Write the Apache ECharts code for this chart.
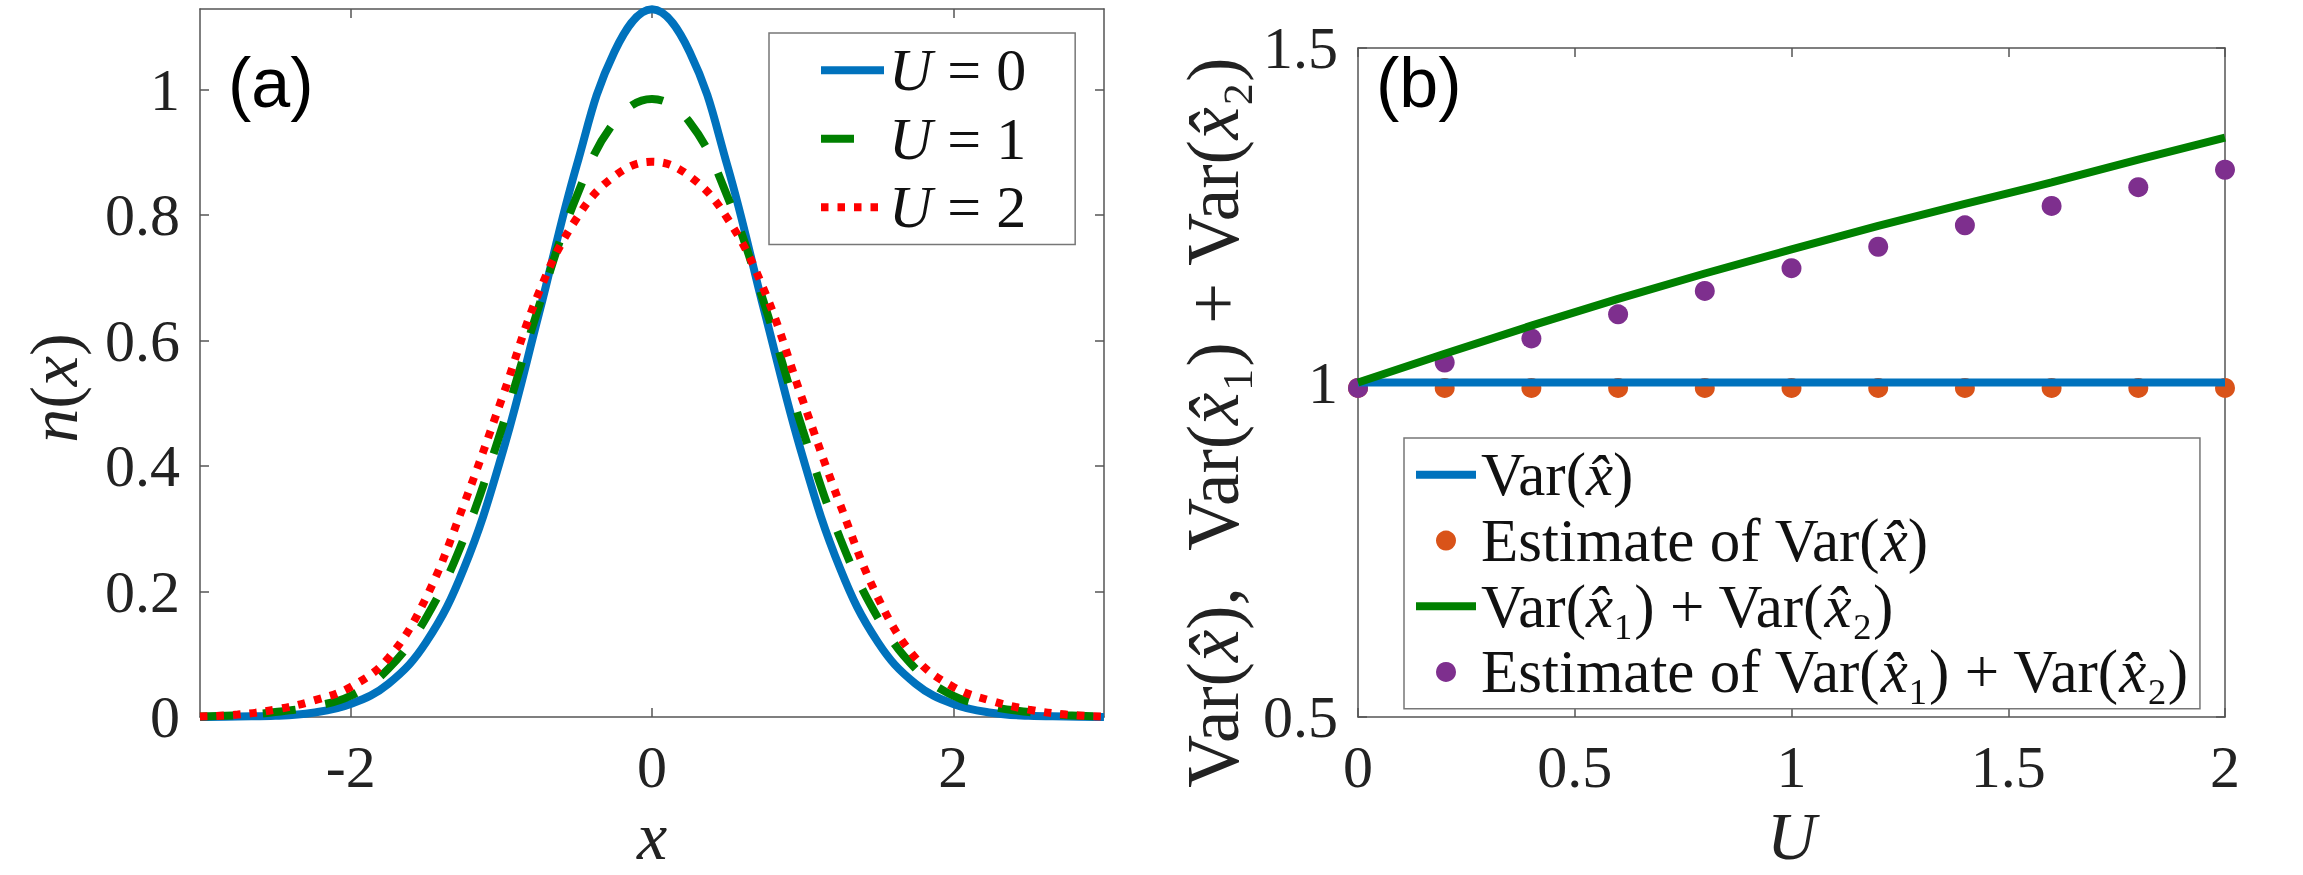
<!DOCTYPE html>
<html>
<head>
<meta charset="utf-8">
<script src="https://cdn.jsdelivr.net/npm/echarts@6/dist/echarts.min.js"></script>
<style>
  html, body { margin: 0; padding: 0; background: #fff; }
  #chart { width: 2303px; height: 875px; }
</style>
</head>
<body>
<div id="chart"></div>
<script>
// panel (a): density profile n(x) for U = 0, 1, 2
const xPos = [-3, -2.75, -2.5, -2.25, -2, -1.75, -1.5, -1.25, -1, -0.75, -0.5, -0.25, 0,
              0.25, 0.5, 0.75, 1, 1.25, 1.5, 1.75, 2, 2.25, 2.5, 2.75, 3];
const nU0 = [0.000, 0.001, 0.002, 0.007, 0.021, 0.053, 0.119, 0.236, 0.415, 0.643, 0.879, 1.060, 1.128,
             1.060, 0.879, 0.643, 0.415, 0.236, 0.119, 0.053, 0.021, 0.007, 0.002, 0.001, 0.000];
const nU1 = [0.001, 0.003, 0.008, 0.017, 0.034, 0.077, 0.158, 0.284, 0.458, 0.655, 0.830, 0.948, 0.985,
             0.948, 0.830, 0.655, 0.458, 0.284, 0.158, 0.077, 0.034, 0.017, 0.008, 0.003, 0.001];
const nU2 = [0.001, 0.004, 0.012, 0.026, 0.048, 0.094, 0.190, 0.338, 0.505, 0.677, 0.795, 0.862, 0.885,
             0.862, 0.795, 0.677, 0.505, 0.338, 0.190, 0.094, 0.048, 0.026, 0.012, 0.004, 0.001];
const xTicksA = [-2, 0, 2];
const yTicksA = [0, 0.2, 0.4, 0.6, 0.8, 1];

// panel (b): variances against U
const uVals = [0, 0.2, 0.4, 0.6, 0.8, 1, 1.2, 1.4, 1.6, 1.8, 2];
const varX = [1.000, 1.000, 1.000, 1.000, 1.000, 1.000, 1.000, 1.000, 1.000, 1.000, 1.000];
const varXEst = [0.992, 0.992, 0.992, 0.992, 0.992, 0.992, 0.992, 0.992, 0.992, 0.992, 0.992];
const varSum = [1.000, 1.043, 1.085, 1.125, 1.163, 1.199, 1.234, 1.267, 1.299, 1.333, 1.366];
const varSumEst = [0.992, 1.030, 1.066, 1.102, 1.137, 1.171, 1.203, 1.235, 1.264, 1.292, 1.318];
const xTicksB = [0, 0.5, 1, 1.5, 2];
const yTicksB = [0.5, 1, 1.5];

const serif = "Liberation Serif, DejaVu Serif, serif";
const axisColor = "#555";

function pairs(xs, ys) {
  return xs.map((x, i) => [x, ys[i]]);
}

function makeAxis(gridIndex, position, min, max, ticks, withLabels) {
  return {
    type: "value",
    gridIndex: gridIndex,
    position: position,
    min: min,
    max: max,
    axisLine: { show: true, onZero: false, lineStyle: { color: axisColor, width: 1.5 } },
    axisTick: { show: true, inside: true, length: 9, customValues: ticks, lineStyle: { color: axisColor, width: 1.5 } },
    axisLabel: {
      show: withLabels,
      customValues: ticks,
      fontFamily: serif,
      fontSize: 60,
      color: "#222",
      margin: 20,
    },
    splitLine: { show: false },
  };
}

const nameStyle = (size, pad) => ({
  fontFamily: serif, fontSize: size, color: "#222", padding: pad,
  rich: { i: { fontStyle: "italic", fontFamily: serif, fontSize: size, color: "#222" } },
});

const xA = makeAxis(0, "bottom", -3, 3, xTicksA, true);
xA.name = "{i|x}";
xA.nameLocation = "middle";
xA.nameGap = 68;
xA.nameTextStyle = nameStyle(68, 0);

const yA = makeAxis(0, "left", 0, 1.1284, yTicksA, true);
yA.name = "{i|n}({i|x})";
yA.nameLocation = "middle";
yA.nameGap = 112;
yA.nameRotate = 90;
yA.nameTextStyle = nameStyle(68, [0, 50, 0, 0]);

const xB = makeAxis(1, "bottom", 0, 2, xTicksB, true);
xB.name = "{i|U}";
xB.nameLocation = "middle";
xB.nameGap = 42;
xB.nameTextStyle = nameStyle(68, 0);

const yB = makeAxis(1, "left", 0.5, 1.5, yTicksB, true);
yB.name = "Var({i|x̂}),\u2002Var({i|x̂}₁) + Var({i|x̂}₂)";
yB.nameLocation = "middle";
yB.nameGap = 108;
yB.nameRotate = 90;
yB.nameTextStyle = nameStyle(73, [0, 80, 0, 0]);

const legendText = (size, lh) => ({
  fontFamily: serif,
  fontSize: size,
  lineHeight: lh,
  color: "#111",
  rich: { i: { fontStyle: "italic", fontFamily: serif, fontSize: size, lineHeight: lh, color: "#111" } },
});

// legend swatch for a line series: plain line, no marker
const lineEntry = (name) => ({ name: name, itemStyle: { opacity: 0 }, lineStyle: { width: 8 } });

const option = {
  animation: false,
  backgroundColor: "#fff",
  textStyle: { fontFamily: serif },
  title: [
    { text: "(a)", left: 228, top: 48, padding: 0,
      textStyle: { fontFamily: "Liberation Sans, Arial, sans-serif", fontSize: 70, fontWeight: "normal", color: "#000" } },
    { text: "(b)", left: 1376, top: 48, padding: 0,
      textStyle: { fontFamily: "Liberation Sans, Arial, sans-serif", fontSize: 70, fontWeight: "normal", color: "#000" } },
  ],
  grid: [
    { left: 200, top: 9, width: 904, height: 714 },
    { left: 1358, top: 48, width: 867, height: 686 },
  ],
  xAxis: [
    xA,
    makeAxis(0, "top", -3, 3, xTicksA, false),
    xB,
    makeAxis(1, "top", 0, 2, xTicksB, false),
  ],
  yAxis: [
    yA,
    makeAxis(0, "right", 0, 1.1284, yTicksA, false),
    yB,
    makeAxis(1, "right", 0.5, 1.5, yTicksB, false),
  ],
  legend: [
    {
      orient: "vertical", left: 769, top: 33,
      padding: [3, 49, 3, 48], itemGap: 0, itemWidth: 63, itemHeight: 20,
      borderColor: "#777", borderWidth: 1.5, backgroundColor: "#fff",
      data: [lineEntry("U = 0"), lineEntry("U = 1"), lineEntry("U = 2")],
      formatter: (name) => name.replace("U", "{i|U}"),
      textStyle: legendText(60, 68.5),
    },
    {
      orient: "vertical", left: 1404, top: 438,
      padding: [4, 12, 4, 8], itemGap: 0, itemWidth: 60, itemHeight: 20,
      borderColor: "#777", borderWidth: 1.5, backgroundColor: "#fff",
      data: [
        lineEntry("Var(x̂)"),
        { name: "Estimate of Var(x̂)" },
        lineEntry("Var(x̂₁) + Var(x̂₂)"),
        { name: "Estimate of Var(x̂₁) + Var(x̂₂)" },
      ],
      formatter: (name) => name.split("x̂").join("{i|x̂}"),
      textStyle: legendText(61, 65.7),
    },
  ],
  series: [
    {
      name: "U = 0", type: "line", xAxisIndex: 0, yAxisIndex: 0,
      data: pairs(xPos, nU0), symbol: "none", smooth: 0.4,
      lineStyle: { color: "#0072BD", width: 8 }, itemStyle: { color: "#0072BD" },
    },
    {
      name: "U = 1", type: "line", xAxisIndex: 0, yAxisIndex: 0,
      data: pairs(xPos, nU1), symbol: "none", smooth: 0.4,
      lineStyle: { color: "#008000", width: 8, type: [33, 30] }, itemStyle: { color: "#008000" },
    },
    {
      name: "U = 2", type: "line", xAxisIndex: 0, yAxisIndex: 0,
      data: pairs(xPos, nU2), symbol: "none", smooth: 0.4,
      lineStyle: { color: "#FF0000", width: 8, type: [7.5, 9] }, itemStyle: { color: "#FF0000" },
    },
    {
      name: "Var(x̂)", type: "line", xAxisIndex: 2, yAxisIndex: 2,
      data: pairs(uVals, varX), symbol: "none",
      lineStyle: { color: "#0072BD", width: 8 }, itemStyle: { color: "#0072BD" },
    },
    {
      name: "Estimate of Var(x̂)", type: "scatter", xAxisIndex: 2, yAxisIndex: 2,
      data: pairs(uVals, varXEst), symbol: "circle", symbolSize: 20, clip: false,
      itemStyle: { color: "#D95319", opacity: 1 },
    },
    {
      name: "Var(x̂₁) + Var(x̂₂)", type: "line", xAxisIndex: 2, yAxisIndex: 2,
      data: pairs(uVals, varSum), symbol: "none",
      lineStyle: { color: "#008000", width: 8 }, itemStyle: { color: "#008000" },
    },
    {
      name: "Estimate of Var(x̂₁) + Var(x̂₂)", type: "scatter", xAxisIndex: 2, yAxisIndex: 2,
      data: pairs(uVals, varSumEst), symbol: "circle", symbolSize: 20, clip: false,
      itemStyle: { color: "#7E2F8E", opacity: 1 },
    },
  ],
};

const myChart = echarts.init(document.getElementById("chart"), null, { renderer: "svg" });
myChart.setOption(option);
</script>
</body>
</html>
